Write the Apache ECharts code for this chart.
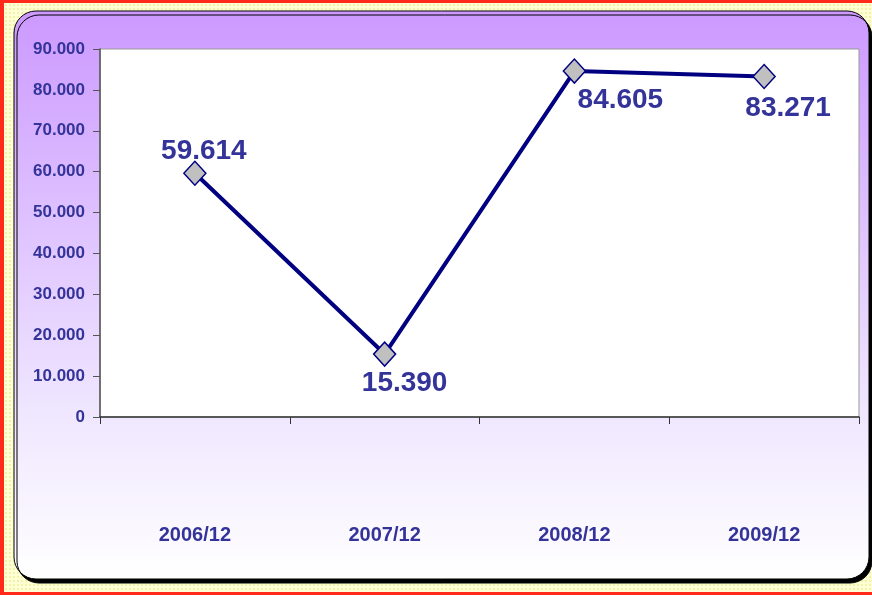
<!DOCTYPE html>
<html>
<head>
<meta charset="utf-8">
<script src="https://cdn.jsdelivr.net/npm/echarts@6/dist/echarts.min.js"></script>
<style>
html, body {
  margin: 0;
  padding: 0;
}
.frame {
  width: 872px;
  height: 595px;
  box-sizing: border-box;
  border-top: 3px solid #ff2a1a;
  border-left: 4px solid #ff2a1a;
  border-bottom: 3px solid #ff2a1a;
  background-color: #ffffd6;
  background-image: radial-gradient(#f2f2a8 1px, transparent 1.2px);
  background-size: 4px 4px;
  position: relative;
}
.chart {
  position: absolute;
  left: -4px;
  top: -3px;
  width: 872px;
  height: 595px;
}
</style>
</head>
<body>
<div class="frame">
  <div id="chart" class="chart"></div>
</div>
<script>
const categories = ['2006/12', '2007/12', '2008/12', '2009/12']
const values = [59614, 15390, 84605, 83271]
// where each value label sits relative to its point
const labelOffsets = [[9, -22], [20, 29], [46, 29], [24, 32]]

const labelColor = '#333399'
const labelFont = '"Liberation Sans", Arial, sans-serif'
const fmt = v => v === 0 ? '0' : String(v).replace(/\B(?=(\d{3})+(?!\d))/g, '.')

const chart = echarts.init(document.getElementById('chart'))

const options = {
  animation: false,
  graphic: [
    {
      type: 'rect',
      z: -10,
      shape: { x: 14, y: 11, width: 855, height: 568, r: 22 },
      style: {
        fill: new echarts.graphic.LinearGradient(0, 0, 0, 1, [
          { offset: 0, color: '#cc99ff' },
          { offset: 0.7, color: '#efe6ff' },
          { offset: 1, color: '#ffffff' }
        ]),
        stroke: '#000',
        lineWidth: 1,
        shadowColor: '#000',
        shadowOffsetX: 3,
        shadowOffsetY: 4,
        shadowBlur: 0
      }
    }
  ],
  grid: {
    left: 100,
    right: 13,
    top: 49,
    bottom: 178,
    show: true,
    backgroundColor: '#fff',
    borderColor: '#999',
    borderWidth: 1
  },
  xAxis: {
    type: 'category',
    data: categories,
    boundaryGap: true,
    axisLine: { lineStyle: { color: '#333', width: 1.5 } },
    axisTick: { show: true, length: 7, lineStyle: { color: '#333' } },
    axisLabel: {
      margin: 108,
      color: labelColor,
      fontFamily: labelFont,
      fontWeight: 'bold',
      fontSize: 20
    },
    splitLine: { show: false }
  },
  yAxis: {
    type: 'value',
    min: 0,
    max: 90000,
    interval: 10000,
    axisLine: { show: true, lineStyle: { color: '#555', width: 1.5 } },
    axisTick: { show: true, length: 7, lineStyle: { color: '#555' } },
    axisLabel: {
      margin: 15,
      color: labelColor,
      fontFamily: labelFont,
      fontWeight: 'bold',
      fontSize: 17,
      formatter: fmt
    },
    splitLine: { show: false }
  },
  series: [
    {
      type: 'line',
      data: values.map((v, i) => ({
        value: v,
        label: { offset: labelOffsets[i] }
      })),
      lineStyle: { color: '#000080', width: 4 },
      symbol: 'diamond',
      symbolSize: [22, 24],
      itemStyle: { color: '#c0c0c0', borderColor: '#000080', borderWidth: 1.5 },
      label: {
        show: true,
        position: 'inside',
        color: labelColor,
        fontFamily: labelFont,
        fontWeight: 'bold',
        fontSize: 28,
        formatter: p => fmt(p.value)
      }
    }
  ]
}

chart.setOption(options)
</script>
</body>
</html>
